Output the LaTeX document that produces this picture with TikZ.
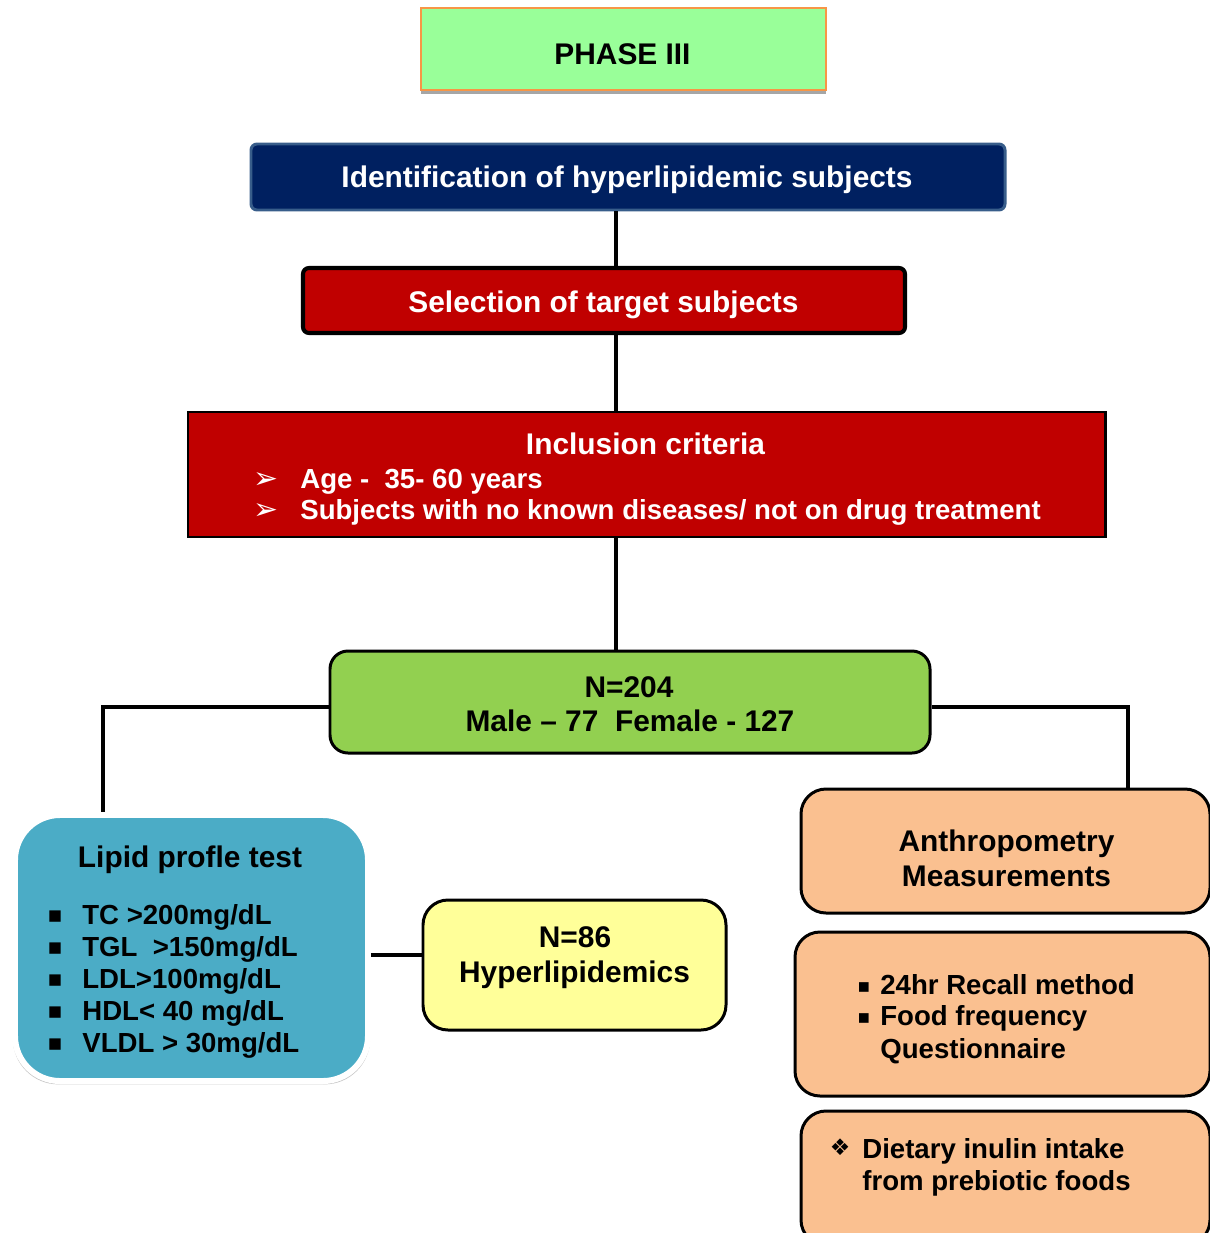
\documentclass[tikz,border=0pt]{standalone}
\usepackage{fontspec}
\setmainfont{Liberation Sans}
\newfontfamily\symfont{DejaVu Sans}
\usepackage{tikz}
\usetikzlibrary{positioning, shadows}
\definecolor{phasegreen}{HTML}{99FF99}
\definecolor{phaseorange}{HTML}{F79646}
\definecolor{identnavy}{HTML}{002060}
\definecolor{identedge}{HTML}{385D8A}
\definecolor{critred}{HTML}{C00000}
\definecolor{countgreen}{HTML}{92D050}
\definecolor{lipidblue}{HTML}{4BACC6}
\definecolor{hyperyellow}{HTML}{FFFF99}
\definecolor{peach}{HTML}{FAC090}

\begin{document}
\begin{tikzpicture}[x=0.2mm, y=-0.2mm,
    txt/.style={font=\fontsize{17}{20}\selectfont\bfseries, inner sep=0pt, anchor=base},
    wtxt/.style={txt, text=white},
    lst/.style={txt, font=\fontsize{15.7}{18}\selectfont\bfseries, anchor=base west},
    conn/.style={line width=2pt},
    roundbox/.style={draw=black, line width=1.7pt, rounded corners=0.5cm},
    peachbox/.style={roundbox, fill=peach}]
  \useasboundingbox (0,0) rectangle (1209,1233);
  % Phase heading
  \node[draw=phaseorange, line width=0.6pt, fill=phasegreen,
        drop shadow={shadow xshift=0pt, shadow yshift=-2.5pt, fill=gray!70, opacity=1},
        minimum width=8.1cm, minimum height=1.64cm] (phase) at (623.5,49) {};
  \node[txt] (phaset) at (622.5,65) {PHASE III};
  % Identification
  \node[draw=identedge, line width=1.7pt, fill=identnavy, rounded corners=0.12cm,
        minimum width=15.08cm, minimum height=1.32cm] (ident) at (628,177) {};
  \node[wtxt] (identt) at (627,188) {Identification of hyperlipidemic subjects};
  % Selection
  \node[draw=black, line width=2.3pt, fill=critred, rounded corners=0.12cm,
        minimum width=12.04cm, minimum height=1.3cm] (sel) at (604,300.5) {};
  \node[wtxt] (selt) at (603.5,312) {Selection of target subjects};
  % Inclusion criteria
  \node[draw=black, line width=1.7pt, fill=critred,
        minimum width=18.34cm, minimum height=2.5cm] (incl) at (646.5,474.5) {};
  \node[wtxt] (inclt) at (645.5,454) {Inclusion criteria};
  \foreach \y/\t in {488/{Age -\ \ 35- 60 years},
                     519/{Subjects with no known diseases/ not on drug treatment}} {
    \node[wtxt, font=\symfont\fontsize{17}{19}\selectfont] (arr\y) at (266,\y) {➢};
    \node[lst, text=white] (crit\y) at (300,\y) {\t};
  }
  % Sample size
  \node[roundbox, fill=countgreen, rounded corners=0.36cm,
        minimum width=12cm, minimum height=2.04cm] (n204) at (630,702) {};
  \node[txt] (n204a) at (629,697) {N=204};
  \node[txt] (n204b) at (630,731) {Male – 77\ \ Female - 127};
  % Lipid profile
  \node[draw=white, line width=3.4pt, fill=lipidblue, rounded corners=0.9cm,
        drop shadow={shadow xshift=0pt, shadow yshift=-1pt, shadow scale=1.012, fill=black!22, opacity=1},
        minimum width=7.06cm, minimum height=5.32cm] (lipid) at (191.5,948) {};
  \node[txt] (lipidt) at (190,867) {Lipid profle test};
  \foreach \y/\t in {924/{TC >200mg/dL}, 956/{TGL\ \ >150mg/dL}, 988/{LDL>100mg/dL},
                     1020/{HDL< 40 mg/dL}, 1052/{VLDL > 30mg/dL}} {
    \node[txt, font=\symfont\fontsize{13}{15}\selectfont] (lb\y) at (55,\y-2) {▪};
    \node[lst] (lp\y) at (82,\y) {\t};
  }
  % Hyperlipidemics
  \node[roundbox, fill=hyperyellow, minimum width=6.06cm, minimum height=2.6cm] (n86) at (574.5,965) {};
  \node[txt] (n86a) at (575,947) {N=86};
  \node[txt] (n86b) at (574.5,982) {Hyperlipidemics};
  % Right column
  \node[peachbox, minimum width=8.18cm, minimum height=2.48cm] (anthro) at (1005.5,851) {};
  \node[txt] (anthroa) at (1006.5,851) {Anthropometry};
  \node[txt] (anthrob) at (1006.5,886) {Measurements};
  \node[peachbox, minimum width=8.3cm, minimum height=3.28cm] (recall) at (1002.5,1014) {};
  \foreach \y/\t in {994/{24hr Recall method}, 1025/{Food frequency}} {
    \node[txt, font=\symfont\fontsize{11}{13}\selectfont] (rb\y) at (864,\y-2) {▪};
    \node[lst] (rc\y) at (880,\y) {\t};
  }
  \node[lst] (rc1058) at (880,1058) {Questionnaire};
  \node[peachbox, minimum width=8.18cm, minimum height=2.68cm] (inulin) at (1005.5,1178) {};
  \node[txt, font=\symfont\fontsize{13}{15}\selectfont] (ib) at (840,1155) {❖};
  \node[lst] (inua) at (862,1158) {Dietary inulin intake};
  \node[lst] (inub) at (862,1190) {from prebiotic foods};
  % Connectors
  \coordinate (spine) at (616,0);
  \coordinate (lknee) at (103,707);
  \coordinate (rknee) at (1128,707);
  \coordinate (hlink) at (0,955);
  \draw[conn] (ident.south -| spine) -- (sel.north -| spine);
  \draw[conn] (sel.south -| spine) -- (incl.north -| spine);
  \draw[conn] (incl.south -| spine) -- (n204.north -| spine);
  \draw[conn] (n204.west |- lknee) -- (lknee) -- (lknee |- lipid.north);
  \draw[conn] (n204.east |- rknee) -- (rknee) -- (rknee |- anthro.north);
  \draw[conn] (lipid.east |- hlink) -- (n86.west |- hlink);
\end{tikzpicture}
\end{document}
